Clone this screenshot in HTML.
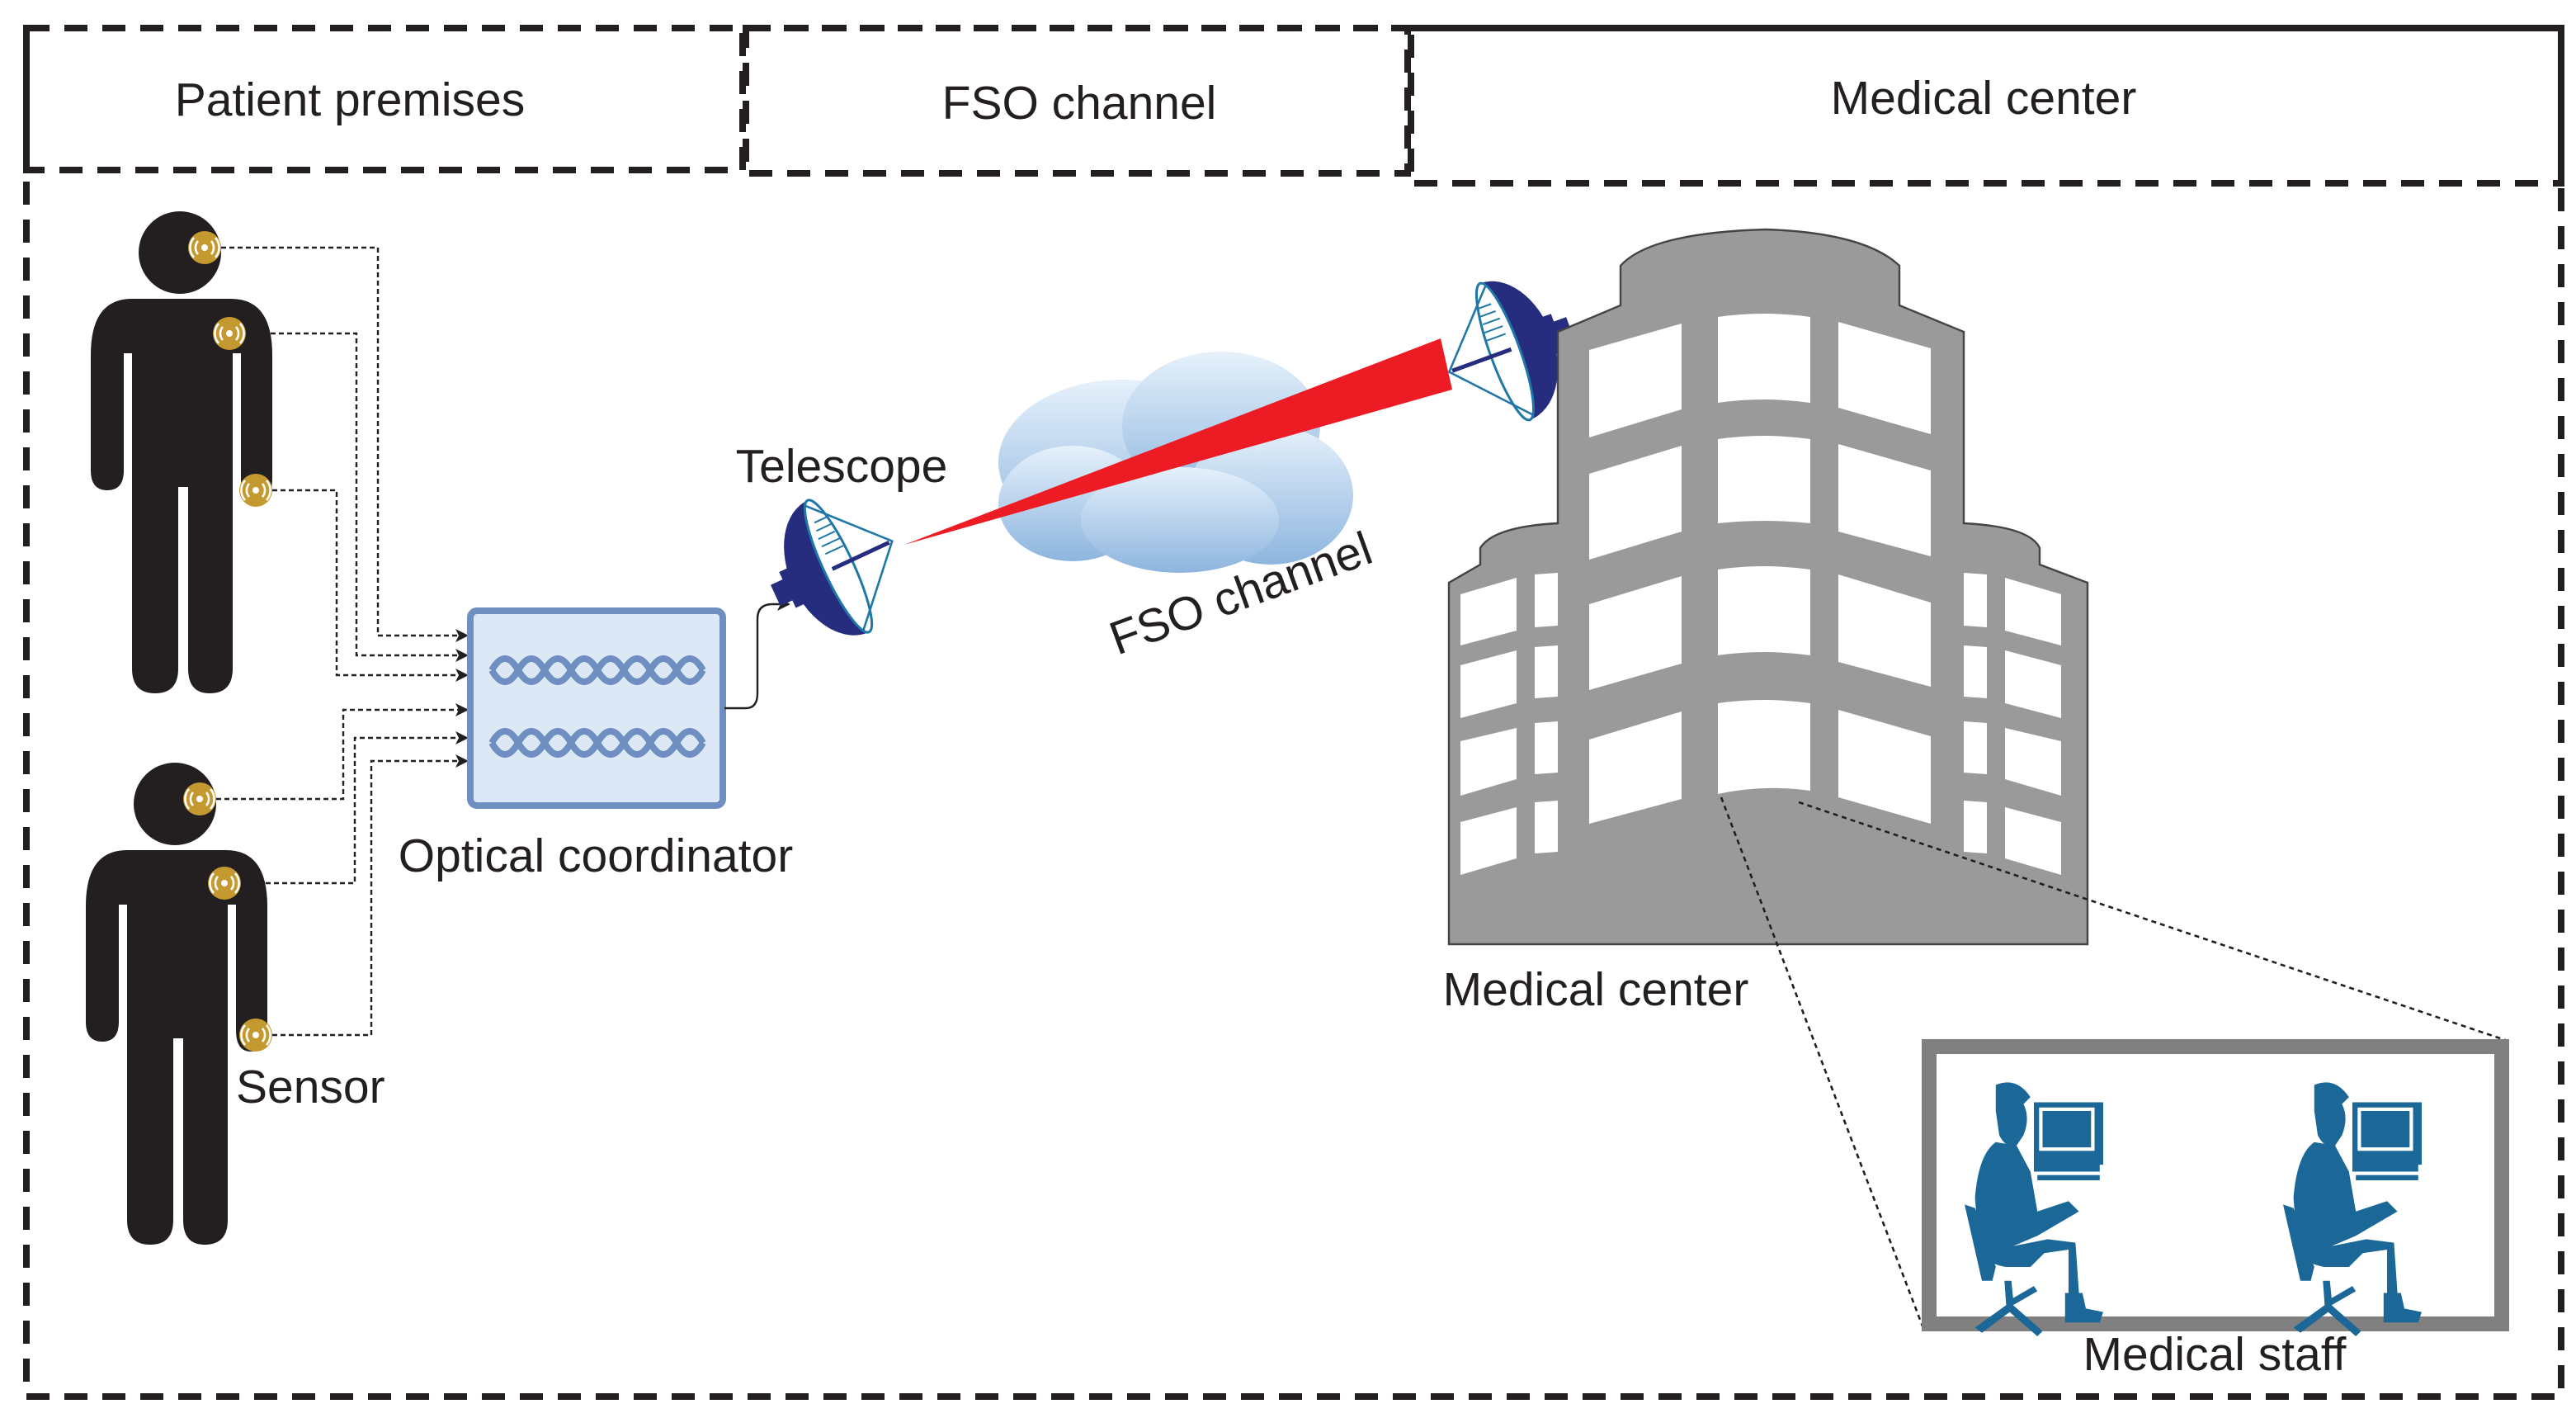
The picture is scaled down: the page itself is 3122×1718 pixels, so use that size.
<!DOCTYPE html>
<html><head><meta charset="utf-8"><style>
html,body{margin:0;padding:0;background:#fff}
svg{display:block}
text{font-family:"Liberation Sans",Arial,sans-serif;fill:#231f20}
</style></head><body>
<svg width="3122" height="1718" viewBox="0 0 1561 859" xmlns="http://www.w3.org/2000/svg">
<defs>
<linearGradient id="cl" x1="0" y1="0" x2="0" y2="1">
<stop offset="0" stop-color="#e6f1fb"/><stop offset="1" stop-color="#8db5df"/></linearGradient>
<marker id="ar" markerWidth="8" markerHeight="8" refX="7" refY="4" orient="auto" markerUnits="userSpaceOnUse">
<path d="M0,0 L8,4 L0,8 L2,4 Z" fill="#231f20"/></marker>
<g id="sens"><circle r="10" fill="#c4992f"/><circle r="2" fill="#fff"/>
<path d="M-4,-4 A6,6 0 0 0 -4,4 M4,-4 A6,6 0 0 1 4,4 M-6.5,-6 A9,9 0 0 0 -6.5,6 M6.5,-6 A9,9 0 0 1 6.5,6" stroke="#fff" stroke-width="1.3" fill="none"/></g>
<path id="person" fill="#231f20" d="M80,214 L80,405 Q80,420 94,420 Q108,420 108,405 L108,295 L114,295 L114,405 Q114,420 127,420 Q141,420 141,405 L141,214 L146,214 L146,290 Q146,303 155,303 Q165,303 165,290 L165,215 Q165,181 140,181 L80,181 Q55,181 55,215 L55,285 Q55,297 65,297 Q75,297 75,285 L75,214 Z"/>
<g id="dish">
<path d="M0,-44 A30,44 0 0 0 0,44 Z" fill="#262d7e"/>
<rect x="-42" y="-7" width="14" height="14" fill="#262d7e"/>
<rect x="-34" y="-12" width="8" height="24" fill="#262d7e"/>
<ellipse cx="0" cy="0" rx="9" ry="44" fill="#fff" stroke="#1f78a8" stroke-width="1.5"/>
<path d="M-3,-42 L36,0 L-3,42" fill="none" stroke="#1f78a8" stroke-width="1.3"/>
<line x1="-4" y1="0" x2="34" y2="0" stroke="#262d7e" stroke-width="2.5"/>
<path d="M-2,-30 l8,0 M-3,-25 l10,0 M-4,-20 l11,0 M-4,-15 l12,0 M-4,-10 l12,0" stroke="#1f78a8" stroke-width="1"/>
</g>
<g id="staff" fill="#1b6898">
<path d="M28,5 Q40,0 48,12 L44,16 Q48,24 44,34 L40,40 Q34,42 30,34 L28,20 Z"/>
<path d="M28,38 L40,40 L48,55 L52,78 L70,72 L76,78 L52,92 L38,98 L58,94 L74,96 L76,125 L70,125 L70,100 L56,102 L48,110 L34,110 Q20,108 18,96 L16,70 Q18,45 28,38 Z"/>
<path d="M10,74 L16,76 L28,110 L26,118 L20,118 Z"/>
<path d="M68,125 L78,125 L80,134 L90,136 L88,142 L68,142 Z"/>
<rect x="50" y="15" width="40" height="36" fill="#1b6898"/>
<rect x="53" y="18" width="32" height="25" fill="#fff"/>
<rect x="55" y="20" width="28" height="21" fill="#1b6898"/>
<rect x="50" y="50" width="38" height="5"/>
<rect x="52" y="57" width="36" height="3"/>
<path d="M33,118 L34,132 L16,145 L20,148 L36,136 L52,150 L55,147 L38,132 L52,124 L50,121 L38,128 L37,118 Z"/>
</g>
</defs>

<g fill="none" stroke="#231f20" stroke-width="4" stroke-dasharray="14,9">
<rect x="16" y="17" width="1536" height="829"/>
<rect x="16" y="17" width="434" height="86"/>
<rect x="452" y="17" width="401" height="88"/>
<rect x="855" y="17" width="697" height="94"/>
</g>
<text x="212" y="70" font-size="28.5" text-anchor="middle">Patient premises</text>
<text x="654" y="72" font-size="28.5" text-anchor="middle">FSO channel</text>
<text x="1202" y="69" font-size="28.5" text-anchor="middle">Medical center</text>

<circle cx="109" cy="153" r="25" fill="#231f20"/>
<use href="#person"/>
<circle cx="106" cy="487" r="25" fill="#231f20"/>
<use href="#person" transform="translate(-3,334)"/>
<use href="#sens" x="124" y="150"/><use href="#sens" x="139" y="202"/><use href="#sens" x="155" y="297"/>
<use href="#sens" x="121" y="484"/><use href="#sens" x="136" y="535"/><use href="#sens" x="155" y="627"/>

<g fill="none" stroke="#231f20" stroke-width="1.2" stroke-dasharray="3,2" marker-end="url(#ar)">
<path d="M134,150 L229,150 L229,385 L283,385"/>
<path d="M149,202 L216,202 L216,397 L283,397"/>
<path d="M165,297 L204,297 L204,409 L283,409"/>
<path d="M131,484 L208,484 L208,430 L283,430"/>
<path d="M146,535 L215,535 L215,447 L283,447"/>
<path d="M165,627 L225,627 L225,461 L283,461"/>
</g>
<text x="143" y="668" font-size="28.5">Sensor</text>

<rect x="285" y="370" width="153" height="118" rx="4" fill="#dce8f5" stroke="#6f8fc0" stroke-width="4"/>
<g fill="none" stroke="#6f8fc0" stroke-width="4">
<path d="M298,406 q8,-14 16,0 t16,0 t16,0 t16,0 t16,0 t16,0 t16,0 t16,0"/>
<path d="M298,406 q8,14 16,0 t16,0 t16,0 t16,0 t16,0 t16,0 t16,0 t16,0"/>
<path d="M298,450 q8,-14 16,0 t16,0 t16,0 t16,0 t16,0 t16,0 t16,0 t16,0"/>
<path d="M298,450 q8,14 16,0 t16,0 t16,0 t16,0 t16,0 t16,0 t16,0 t16,0"/>
</g>
<text x="361" y="528" font-size="28.5" text-anchor="middle">Optical coordinator</text>
<path d="M439,429 L452,429 Q459,429 459,420 L459,375 Q459,366 468,366 L478,366" fill="none" stroke="#231f20" stroke-width="1.2" marker-end="url(#ar)"/>

<g fill="url(#cl)">
<ellipse cx="680" cy="280" rx="75" ry="50"/>
<ellipse cx="740" cy="258" rx="60" ry="45"/>
<ellipse cx="770" cy="300" rx="50" ry="42"/>
<ellipse cx="650" cy="305" rx="45" ry="35"/>
<ellipse cx="715" cy="315" rx="60" ry="32"/>
</g>
<text x="0" y="0" font-size="28.5" transform="translate(677,397) rotate(-20)">FSO channel</text>

<polygon points="548,330 873,205 880,236" fill="#ed1c24"/>
<use href="#dish" transform="translate(508,343) rotate(-25)"/>
<use href="#dish" transform="translate(912,213) rotate(160) scale(1,-1)"/>
<text x="510" y="292" font-size="28.5" text-anchor="middle">Telescope</text>

<path d="M878,353 L878,572 L1265,572 L1265,353 L1236,342 L1236,332 Q1230,319 1190,317 L1190,201 L1151,185 L1151,161 Q1130,141 1070,139 Q1000,141 982,161 L982,185 L944,201 L944,317 Q905,319 897,332 L897,342 Z" fill="#9a9a9a" stroke="#444" stroke-width="1.2"/>
<g fill="#fff">
<polygon points="963,212 1019,196 1019,248 963,265"/>
<polygon points="963,287 1019,270 1019,322 963,339"/>
<polygon points="963,366 1019,349 1019,402 963,418"/>
<polygon points="963,448 1019,431 1019,484 963,499"/>
<path d="M1041,192 Q1069,188 1097,192 L1097,244 Q1069,240 1041,244 Z"/>
<path d="M1041,266 Q1069,262 1097,266 L1097,317 Q1069,314 1041,317 Z"/>
<path d="M1041,345 Q1069,341 1097,345 L1097,397 Q1069,393 1041,397 Z"/>
<path d="M1041,426 Q1069,422 1097,426 L1097,479 Q1069,475 1041,481 Z"/>
<polygon points="1114,195 1170,211 1170,263 1114,247"/>
<polygon points="1114,269 1170,285 1170,337 1114,322"/>
<polygon points="1114,348 1170,365 1170,416 1114,401"/>
<polygon points="1114,430 1170,446 1170,499 1114,483"/>
<polygon points="885,360 919,350 919,382 885,391"/>
<polygon points="885,403 919,394 919,426 885,435"/>
<polygon points="885,449 919,441 919,472 885,482"/>
<polygon points="885,498 919,489 919,520 885,530"/>
<polygon points="930,348 944,347 944,379 930,380"/>
<polygon points="930,392 944,391 944,422 930,423"/>
<polygon points="930,438 944,437 944,468 930,469"/>
<polygon points="930,486 944,485 944,516 930,517"/>
<polygon points="1190,347 1204,348 1204,380 1190,379"/>
<polygon points="1190,391 1204,392 1204,423 1190,422"/>
<polygon points="1190,437 1204,438 1204,469 1190,468"/>
<polygon points="1190,485 1204,486 1204,517 1190,516"/>
<polygon points="1215,350 1249,360 1249,391 1215,382"/>
<polygon points="1215,394 1249,403 1249,435 1215,426"/>
<polygon points="1215,441 1249,449 1249,482 1215,472"/>
<polygon points="1215,489 1249,498 1249,530 1215,520"/>
</g>
<text x="967" y="609" font-size="28.5" text-anchor="middle">Medical center</text>

<g fill="none" stroke="#231f20" stroke-width="1.3" stroke-dasharray="3,2.5">
<path d="M1043,483 L1166,806"/>
<path d="M1090,486 L1521,631"/>
</g>

<rect x="1169" y="634" width="347" height="168" fill="#fff" stroke="#808080" stroke-width="9"/>
<use href="#staff" transform="translate(1180,652) scale(1.05)"/>
<use href="#staff" transform="translate(1373,652) scale(1.05)"/>
<text x="1342" y="830" font-size="28.5" text-anchor="middle">Medical staff</text>
</svg>
</body></html>
